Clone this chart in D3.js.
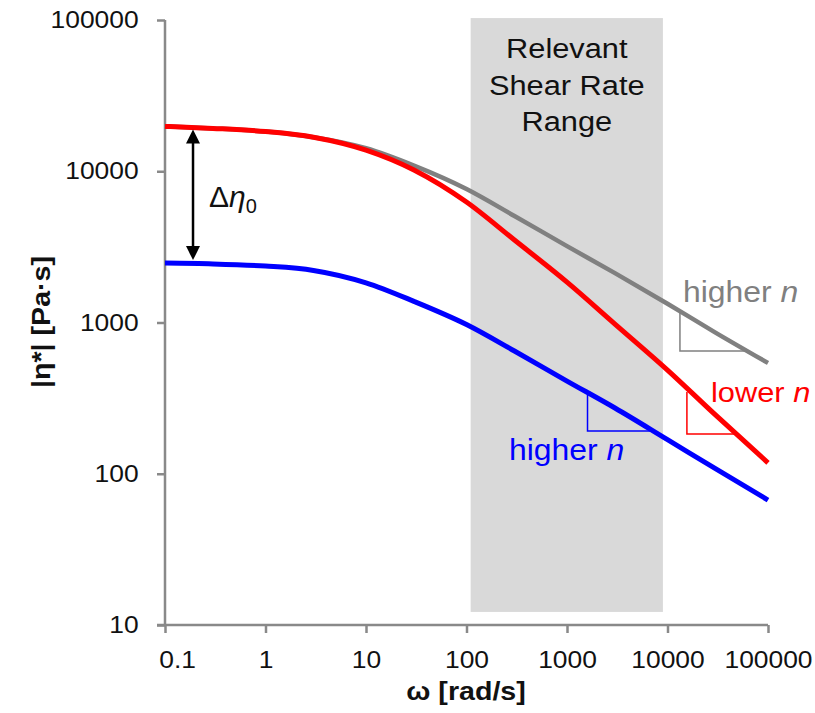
<!DOCTYPE html>
<html>
<head>
<meta charset="utf-8">
<script src="https://cdn.jsdelivr.net/npm/d3@7"></script>
<style>
  body { margin: 0; background: #fff; }
  text { font-family: "Liberation Sans", Arial, sans-serif; }
</style>
</head>
<body>
<div id="chart"></div>
<script>
// data
var omega = [0.1, 0.3, 1, 3, 10, 30, 100, 300, 1000, 3000, 10000, 30000, 100000];
var etaRed = [19800, 19200, 18300, 16800, 13800, 10200, 6260, 3510, 1850, 977, 485, 245, 118];
var etaGray = [19800, 19200, 18300, 16800, 14200, 10900, 7630, 5060, 3200, 2120, 1330, 858, 540];
var etaBlue = [2470, 2440, 2360, 2210, 1830, 1380, 970, 648, 410, 272, 168, 108, 67];

var xTicks = [0.1, 1, 10, 100, 1000, 10000, 100000];
var yTicks = [10, 100, 1000, 10000, 100000];

var rangeOmega = [110, 9000];
var rangeEta = [12.2, 103000];

// slope triangles: [omega left, omega right, eta top, eta bottom]
var triGray = [13300, 59000, 1156, 648];
var triRed = [15600, 47000, 347, 183];
var triBlue = [1600, 6700, 332, 192];

var width = 815,
    height = 713,
    sx = 1.1; // text in the picture is a bit wide

var svg = d3.select("#chart")
  .append("svg")
  .attr("width", width)
  .attr("height", height);

var x = d3.scaleLog().domain([0.1, 100000]).range([165, 768]);
var y = d3.scaleLog().domain([10, 100000]).range([625, 20]);

function label(px, py, str, size, color, anchor) {
  return svg.append("text")
    .attr("transform", "translate(" + px + "," + py + ") scale(" + sx + ",1)")
    .attr("text-anchor", anchor || "start")
    .style("font-size", size + "px")
    .attr("fill", color)
    .text(str);
}

// shaded shear rate range
svg.append("rect")
  .attr("x", x(rangeOmega[0]))
  .attr("y", y(rangeEta[1]))
  .attr("width", x(rangeOmega[1]) - x(rangeOmega[0]))
  .attr("height", y(rangeEta[0]) - y(rangeEta[1]))
  .attr("fill", "#d9d9d9");

var rx = (x(rangeOmega[0]) + x(rangeOmega[1])) / 2;
label(rx, 58, "Relevant", 28, "#111", "middle");
label(rx, 94.5, "Shear Rate", 28, "#111", "middle");
label(rx, 131, "Range", 28, "#111", "middle");

// axes
var axisColor = "#898989";
var fmt = function(d) { return d < 1 ? String(d) : d3.format("d")(d); };

var yAxis = svg.append("g")
  .attr("transform", "translate(165,0)")
  .call(d3.axisLeft(y).tickValues(yTicks).tickFormat(fmt).tickSize(8).tickPadding(16));

var xAxis = svg.append("g")
  .attr("transform", "translate(0,625)")
  .call(d3.axisBottom(x).tickValues(xTicks).tickFormat(fmt).tickSize(8).tickPadding(18));

[yAxis, xAxis].forEach(function(g) {
  g.select(".domain").attr("stroke", axisColor).attr("stroke-width", 2.5);
  g.selectAll(".tick line").attr("stroke", axisColor).attr("stroke-width", 2.5);
  g.selectAll(".tick text")
    .attr("fill", "#111")
    .style("font-size", "24px")
    .style("font-family", "'Liberation Sans', Arial, sans-serif")
    .attr("transform", "scale(" + sx + ",1)");
});
yAxis.select(".domain").attr("d", "M0,20V625");
xAxis.select(".domain").attr("d", "M157,0H768");
xAxis.selectAll(".tick text").filter(function(d) { return d === 0.1; }).attr("x", 11);

// curves
var line = d3.line()
  .x(function(d) { return x(d[0]); })
  .y(function(d) { return y(d[1]); })
  .curve(d3.curveMonotoneX);

function curve(vals, color, w) {
  svg.append("path")
    .datum(d3.zip(omega, vals))
    .attr("d", line)
    .attr("fill", "none")
    .attr("stroke", color)
    .attr("stroke-width", w);
}
curve(etaGray, "#808080", 4.5);
curve(etaRed, "#ff0000", 5);
curve(etaBlue, "#0000ff", 5);

// slope triangles
function triangle(t, color) {
  svg.append("path")
    .attr("d", "M" + x(t[0]) + "," + y(t[2]) + "V" + y(t[3]) + "H" + x(t[1]))
    .attr("fill", "none")
    .attr("stroke", color)
    .attr("stroke-width", 1.5);
}
triangle(triGray, "#808080");
triangle(triRed, "#ff0000");
triangle(triBlue, "#0000ff");

function nLabel(px, py, word, color, size) {
  var t = label(px, py, word + " ", size, color);
  t.append("tspan").style("font-style", "italic").text("n");
}
nLabel(683, 302, "higher", "#808080", 29);
nLabel(711, 402, "lower", "#ff0000", 28);
nLabel(509, 460, "higher", "#0000ff", 29);

// delta eta_0 arrow
var arrowX = x(0.19),
    arrowTop = y(etaRed[0]) + 3,
    arrowBot = y(etaBlue[0]) - 3;
svg.append("line")
  .attr("x1", arrowX).attr("x2", arrowX)
  .attr("y1", arrowTop + 10).attr("y2", arrowBot - 10)
  .attr("stroke", "#000").attr("stroke-width", 2.5);
svg.append("path")
  .attr("d", "M" + arrowX + "," + arrowTop + "l-7,14h14z")
  .attr("fill", "#000");
svg.append("path")
  .attr("d", "M" + arrowX + "," + arrowBot + "l-7,-14h14z")
  .attr("fill", "#000");

var dl = svg.append("text")
  .attr("transform", "translate(209,207)")
  .style("font-size", "30px")
  .attr("fill", "#111");
dl.append("tspan").text("Δ");
dl.append("tspan").style("font-style", "italic").text("η");
dl.append("tspan").attr("dy", 6).style("font-size", "20px").text("0");

// axis titles
svg.append("text")
  .attr("transform", "translate(50,322) rotate(-90) scale(" + sx + ",1)")
  .attr("text-anchor", "middle")
  .style("font-size", "26px")
  .style("font-weight", "bold")
  .attr("fill", "#111")
  .text("|η*| [Pa·s]");

svg.append("text")
  .attr("transform", "translate(466,700) scale(" + sx + ",1)")
  .attr("text-anchor", "middle")
  .style("font-size", "26px")
  .style("font-weight", "bold")
  .attr("fill", "#111")
  .text("ω [rad/s]");
</script>
</body>
</html>
